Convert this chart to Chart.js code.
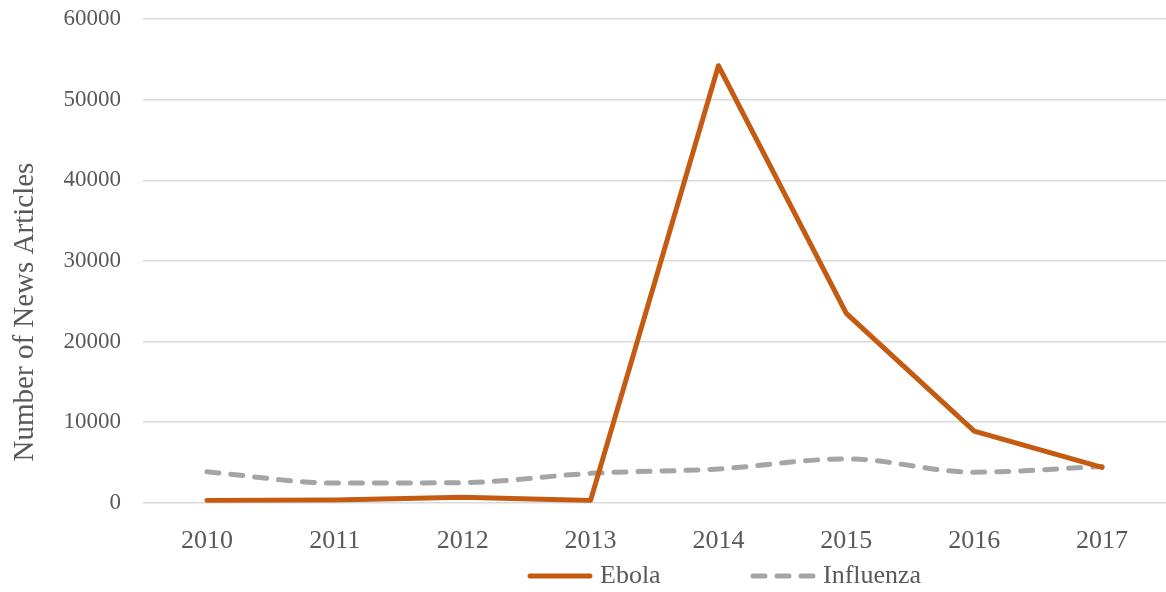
<!DOCTYPE html>
<html>
<head>
<meta charset="utf-8">
<script src="https://cdn.jsdelivr.net/npm/chart.js@4/dist/chart.umd.min.js"></script>
<style>
  html, body { margin: 0; padding: 0; background: #ffffff; }
  #wrap { width: 1166px; height: 592px; position: relative; }
</style>
</head>
<body>
<div id="wrap"><canvas id="c" width="1166" height="592"></canvas></div>
<script>
// Yearly counts of news articles per disease
const years = ['2010', '2011', '2012', '2013', '2014', '2015', '2016', '2017'];
const ebola = [300, 350, 700, 300, 54200, 23500, 8900, 4400];
const influenza = [3850, 2450, 2500, 3650, 4200, 5450, 3800, 4500];
const yTicks = [0, 10000, 20000, 30000, 40000, 50000, 60000];
const yTitle = 'Number of News Articles';

const SERIF = '"Liberation Serif", "Times New Roman", serif';
const TEXT = '#595959';

// Vertical axis title, set a little below the middle of the plot
const axisTitle = {
  id: 'axisTitle',
  afterDraw(chart) {
    const ctx = chart.ctx;
    ctx.save();
    ctx.translate(25, 312);
    ctx.rotate(-Math.PI / 2);
    ctx.fillStyle = TEXT;
    ctx.font = '29px ' + SERIF;
    ctx.textAlign = 'center';
    ctx.textBaseline = 'middle';
    ctx.fillText(yTitle, 0, 0);
    ctx.restore();
  }
};

// Legend drawn as line samples with labels under the x axis
const lineLegend = {
  id: 'lineLegend',
  afterDraw(chart) {
    const ctx = chart.ctx;
    const y = 576;
    const items = [
      { ds: chart.data.datasets[0], x: 530 },
      { ds: chart.data.datasets[1], x: 753 }
    ];
    ctx.save();
    items.forEach(it => {
      ctx.beginPath();
      ctx.lineWidth = it.ds.borderWidth;
      ctx.strokeStyle = it.ds.borderColor;
      ctx.lineCap = 'round';
      ctx.setLineDash(it.ds.borderDash || []);
      ctx.moveTo(it.x, y);
      ctx.lineTo(it.x + 60, y);
      ctx.stroke();
      ctx.setLineDash([]);
      ctx.fillStyle = TEXT;
      ctx.font = '26px ' + SERIF;
      ctx.textBaseline = 'middle';
      ctx.textAlign = 'left';
      ctx.fillText(it.ds.label, it.x + 70, y);
    });
    ctx.restore();
  }
};

new Chart(document.getElementById('c'), {
  type: 'line',
  data: {
    labels: years,
    datasets: [
      {
        label: 'Ebola',
        data: ebola,
        borderColor: '#C55A11',
        backgroundColor: '#C55A11',
        borderWidth: 5,
        borderCapStyle: 'round',
        borderJoinStyle: 'round',
        pointRadius: 0,
        tension: 0,
        fill: false
      },
      {
        label: 'Influenza',
        data: influenza,
        borderColor: '#A5A5A5',
        backgroundColor: '#A5A5A5',
        borderWidth: 5,
        borderDash: [12, 12],
        borderCapStyle: 'round',
        borderJoinStyle: 'round',
        pointRadius: 0,
        cubicInterpolationMode: 'monotone',
        fill: false
      }
    ]
  },
  options: {
    responsive: false,
    animation: false,
    layout: { padding: { top: 19, right: 0, bottom: 12, left: 0 } },
    plugins: {
      legend: { display: false },
      tooltip: { enabled: false }
    },
    scales: {
      x: {
        type: 'category',
        offset: true,
        grid: { display: false, drawTicks: false },
        border: { display: false },
        ticks: {
          color: TEXT,
          font: { family: SERIF, size: 26 },
          padding: 23,
          maxRotation: 0
        }
      },
      y: {
        min: 0,
        max: 60000,
        afterBuildTicks(scale) {
          scale.ticks = yTicks.map(v => ({ value: v }));
        },
        afterFit(scale) {
          scale.width = 143;
          scale.paddingTop = 0;
          scale.paddingBottom = 0;
        },
        grid: { color: '#D9D9D9', lineWidth: 1.5, drawTicks: false },
        border: { display: false },
        ticks: {
          color: TEXT,
          font: { family: SERIF, size: 23 },
          padding: 22,
          callback: v => String(v)
        },
        title: { display: false }
      }
    }
  },
  plugins: [axisTitle, lineLegend]
});
</script>
</body>
</html>
